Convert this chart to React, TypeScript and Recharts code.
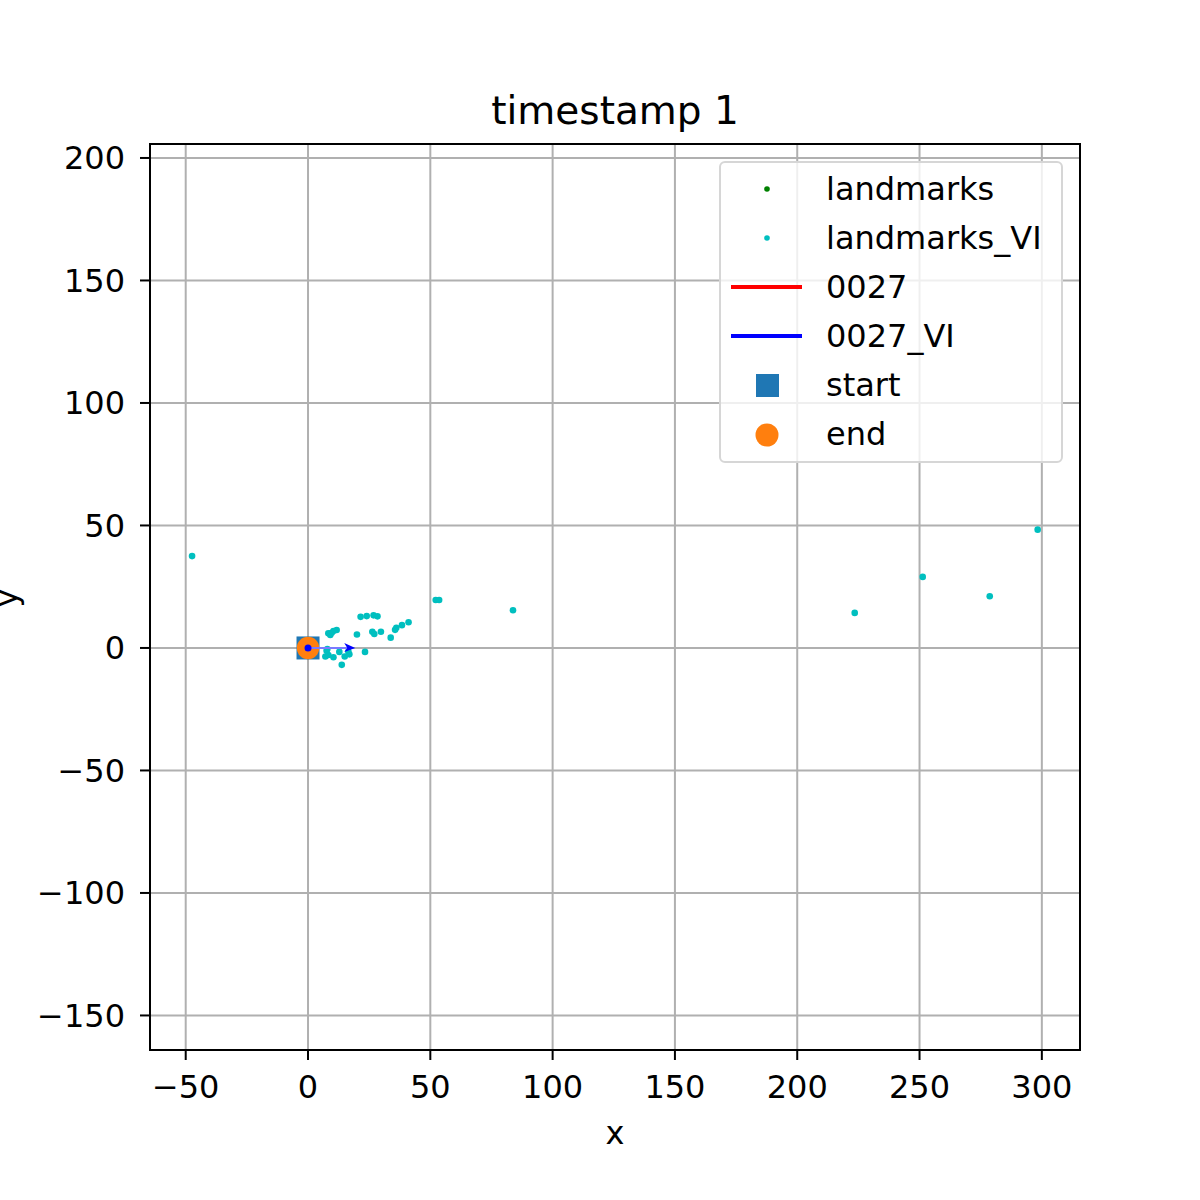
import React from 'react';
import {
  ScatterChart,
  Scatter,
  XAxis,
  YAxis,
  CartesianGrid,
  Legend,
  ReferenceArea,
} from 'recharts';

const FONT = 'DejaVu Sans, sans-serif';

const X_TICKS = [-50, 0, 50, 100, 150, 200, 250, 300];
const Y_TICKS = [-150, -100, -50, 0, 50, 100, 150, 200];
const X_DOMAIN: [number, number] = [-64.6, 315.6];
const Y_DOMAIN: [number, number] = [-164.1, 205.7];

// ground-truth landmarks: none visible in this frame
const LANDMARKS_X: number[] = [];
const LANDMARKS_Y: number[] = [];

// VI landmarks
const LANDMARKS_VI_X = [
  -47.4, 223.5, 251.3, 278.7, 298.3, 83.8, 52.2, 53.6,
  21.5, 24.0, 26.8, 28.4, 41.1, 38.4, 36.1, 35.6, 33.8, 29.8, 27.1, 26.3, 20.0,
  8.3, 9.7, 10.4, 11.7, 9.1,
  23.3, 13.8, 15.0, 16.9, 12.8, 16.5, 7.6, 7.1, 8.3, 10.4, 7.9,
];
const LANDMARKS_VI_Y = [
  37.5, 14.3, 29.0, 21.1, 48.3, 15.4, 19.6, 19.6,
  12.7, 13.0, 13.3, 12.9, 10.5, 9.3, 8.2, 7.4, 4.2, 6.6, 5.7, 6.6, 5.5,
  6.0, 6.2, 6.9, 7.3, 5.3,
  -1.6, -6.9, -3.5, -2.6, -1.6, -1.5, -1.1, -3.5, -2.9, -3.8, -0.4,
];

const TRAJ_X = [0];
const TRAJ_Y = [0];
const TRAJ_VI_X = [0];
const TRAJ_VI_Y = [0];

// heading arrow of the VI trajectory
const HEADING_X = [0, 18.5];
const HEADING_Y = [0, 0];

const START_XY = [0, 0];
const END_XY = [0, 0];

const zip = (xs: number[], ys: number[]) => xs.map((x, i) => ({ x, y: ys[i] }));

const landmarks = zip(LANDMARKS_X, LANDMARKS_Y);
const landmarksVI = zip(LANDMARKS_VI_X, LANDMARKS_VI_Y);
const traj = zip(TRAJ_X, TRAJ_Y);
const trajVI = zip(TRAJ_VI_X, TRAJ_VI_Y);
const heading = HEADING_X.map((x, i) => ({ x, y: HEADING_Y[i], head: i === HEADING_X.length - 1 }));
const start = [{ x: START_XY[0], y: START_XY[1] }];
const end = [{ x: END_XY[0], y: END_XY[1] }];

const fmt = (v: number) => (v < 0 ? `\u2212${Math.abs(v)}` : String(v));

const LEGEND_ITEMS = [
  { name: 'landmarks', kind: 'dot', color: '#008000' },
  { name: 'landmarks_VI', kind: 'dot', color: '#00bfbf' },
  { name: '0027', kind: 'line', color: '#ff0000' },
  { name: '0027_VI', kind: 'line', color: '#0000ff' },
  { name: 'start', kind: 'square', color: '#1f77b4' },
  { name: 'end', kind: 'circle', color: '#ff7f0e' },
];

function LegendBox() {
  return (
    <div
      style={{
        width: 340,
        height: 298,
        border: '2px solid #d6d6d6',
        borderRadius: 6,
        background: 'rgba(255,255,255,0.8)',
        boxSizing: 'content-box',
        position: 'relative',
      }}
    >
      {LEGEND_ITEMS.map((it, i) => {
        const cy = 26 + i * 49;
        return (
          <div key={it.name} style={{ position: 'absolute', left: 0, top: cy - 24, height: 48, width: 340 }}>
            <svg width={100} height={48} style={{ position: 'absolute', left: 0, top: 0 }}>
              {it.kind === 'dot' && <circle cx={46} cy={24} r={2.8} fill={it.color} />}
              {it.kind === 'line' && <line x1={10} x2={81} y1={24} y2={24} stroke={it.color} strokeWidth={4} />}
              {it.kind === 'square' && <rect x={35} y={13} width={23} height={23} fill={it.color} />}
              {it.kind === 'circle' && <circle cx={46} cy={25} r={11.5} fill={it.color} />}
            </svg>
            <span
              style={{
                position: 'absolute',
                left: 105,
                top: 4,
                fontSize: 32,
                lineHeight: '40px',
                fontFamily: FONT,
                color: '#000',
                whiteSpace: 'nowrap',
              }}
            >
              {it.name}
            </span>
          </div>
        );
      })}
    </div>
  );
}

const ArrowShape = (props: any) => {
  const { cx, cy, payload } = props;
  if (!payload?.head) return <g />;
  return <path d={`M${cx - 9},${cy - 5} L${cx + 2},${cy} L${cx - 9},${cy + 4} L${cx - 6},${cy} Z`} fill="#0000ff" />;
};

export default function App() {
  return (
    <div style={{ position: 'absolute', left: 0, top: 0, width: 1200, height: 1200, background: '#fff', fontFamily: FONT }}>
      <div
        style={{
          position: 'absolute',
          left: 315,
          width: 600,
          top: 88,
          textAlign: 'center',
          fontSize: 39,
          lineHeight: '46px',
          color: '#000',
        }}
      >
        timestamp 1
      </div>
      <div style={{ position: 'absolute', left: 600, width: 30, top: 1113, textAlign: 'center', fontSize: 32, lineHeight: '40px' }}>
        x
      </div>
      <div
        style={{
          position: 'absolute',
          left: -14,
          top: 578,
          width: 40,
          height: 40,
          textAlign: 'center',
          fontSize: 32,
          lineHeight: '40px',
          transform: 'rotate(-90deg)',
        }}
      >
        y
      </div>
      <ScatterChart width={1200} height={1200} margin={{ top: 144, right: 120, bottom: 0, left: 0 }}>
        <CartesianGrid stroke="#b0b0b0" strokeWidth={2} />
        <XAxis
          type="number"
          dataKey="x"
          domain={X_DOMAIN}
          ticks={X_TICKS}
          allowDataOverflow
          height={150}
          tickFormatter={fmt}
          tick={{ fill: '#000', fontSize: 32, fontFamily: FONT }}
          tickLine={{ stroke: '#000', strokeWidth: 2 }}
          axisLine={{ stroke: '#000', strokeWidth: 2 }}
          tickSize={10}
          tickMargin={15}
        />
        <YAxis
          type="number"
          dataKey="y"
          domain={Y_DOMAIN}
          ticks={Y_TICKS}
          allowDataOverflow
          width={150}
          tickFormatter={fmt}
          tick={{ fill: '#000', fontSize: 32, fontFamily: FONT }}
          tickLine={{ stroke: '#000', strokeWidth: 2 }}
          axisLine={{ stroke: '#000', strokeWidth: 2 }}
          tickSize={10}
          tickMargin={15}
        />
        <ReferenceArea
          x1={X_DOMAIN[0]}
          x2={X_DOMAIN[1]}
          y1={Y_DOMAIN[0]}
          y2={Y_DOMAIN[1]}
          fill="none"
          fillOpacity={0}
          stroke="#000"
          strokeWidth={2}
        />
        <Scatter
          name="landmarks"
          data={landmarks}
          isAnimationActive={false}
          shape={(p: any) => <circle cx={p.cx} cy={p.cy} r={3.3} fill="#008000" />}
        />
        <Scatter
          name="landmarks_VI"
          data={landmarksVI}
          isAnimationActive={false}
          shape={(p: any) => <circle cx={p.cx} cy={p.cy} r={3.3} fill="#00bfbf" />}
        />
        <Scatter
          name="0027"
          data={traj}
          isAnimationActive={false}
          line={{ stroke: '#ff0000', strokeWidth: 3 }}
          shape={() => <g />}
        />
        <Scatter
          name="start"
          data={start}
          isAnimationActive={false}
          shape={(p: any) => <rect x={p.cx - 11.5} y={p.cy - 11.5} width={23} height={23} fill="#1f77b4" />}
        />
        <Scatter
          name="end"
          data={end}
          isAnimationActive={false}
          shape={(p: any) => <circle cx={p.cx} cy={p.cy} r={11.2} fill="#ff7f0e" />}
        />
        <Scatter
          name="heading"
          data={heading}
          isAnimationActive={false}
          line={{ stroke: '#7a7aff', strokeWidth: 2 }}
          shape={ArrowShape}
        />
        <Scatter
          name="0027_VI"
          data={trajVI}
          isAnimationActive={false}
          shape={(p: any) => <circle cx={p.cx} cy={p.cy} r={3.5} fill="#0000ff" />}
        />
        <Legend
          layout="vertical"
          align="center"
          verticalAlign="middle"
          content={() => <LegendBox />}
          wrapperStyle={{ position: 'absolute', left: 719, top: 161, right: 'auto', bottom: 'auto', width: 344, margin: 0 }}
        />
      </ScatterChart>
    </div>
  );
}
